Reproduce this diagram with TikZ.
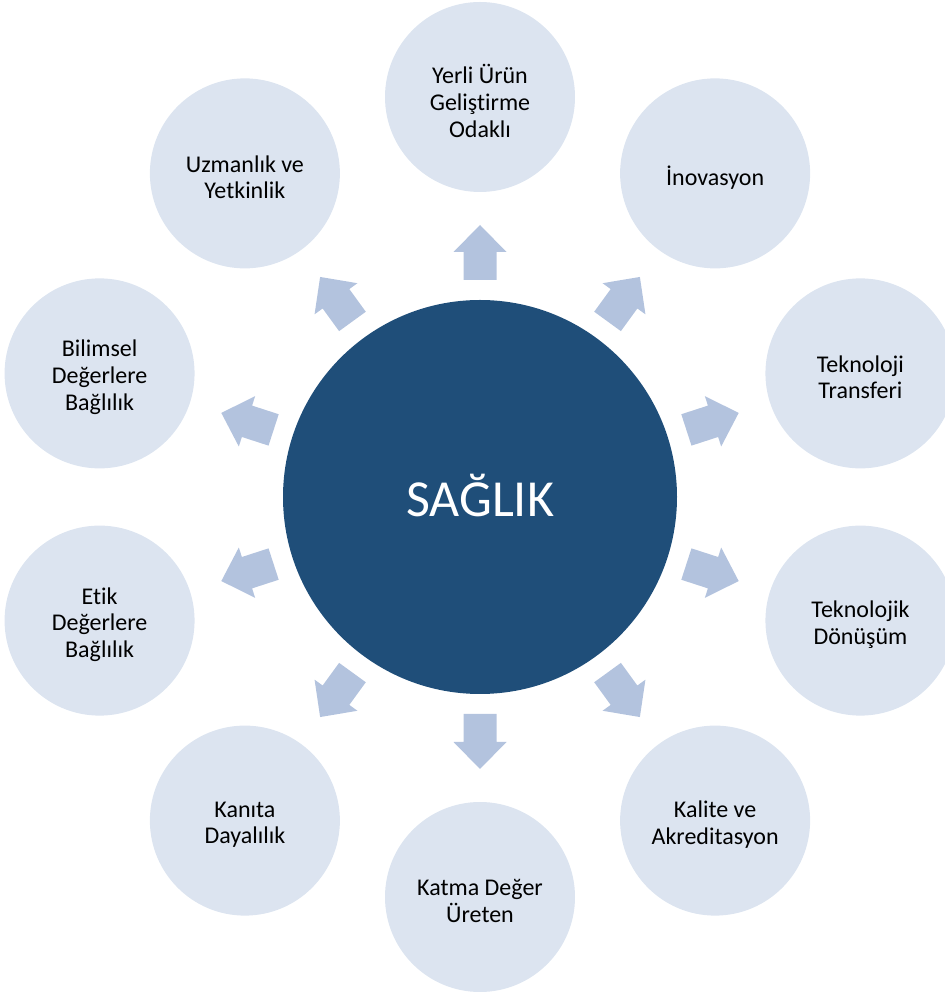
\documentclass[tikz,border=0pt]{standalone}
\usepackage{fontspec}
\setmainfont{Carlito}[Ligatures=NoCommon]
\usetikzlibrary{calc}
\definecolor{outerfill}{HTML}{DCE4F0}
\definecolor{arrowfill}{HTML}{B3C3DE}
\definecolor{centerfill}{HTML}{1F4E79}
\begin{document}
\begin{tikzpicture}[x=1pt,y=1pt,
  outercirc/.style={circle,fill=outerfill,minimum size=190pt,inner sep=0pt},
  outertext/.style={align=center,inner sep=0pt,
    font=\fontsize{24}{26.7}\selectfont,text=black},
  centercirc/.style={circle,fill=centerfill,minimum size=394pt,inner sep=0pt},
  centertext/.style={inner sep=0pt,font=\fontsize{52}{56}\selectfont,text=white},
  blockarrow/.style={fill=arrowfill}]
\useasboundingbox (0,0) rectangle (945,994);
\clip (0,0) rectangle (945,994);
\node[centercirc] (c) at (480,497) {};
\node[centertext] (ct) at ($(c.center)+(0,1)$) {SAĞLIK};
\foreach \k/\txt in {0/{Yerli Ürün\\Geliştirme\\Odaklı},1/{İnovasyon},2/{Teknoloji\\Transferi},
  3/{Teknolojik\\Dönüşüm},4/{Kalite ve\\Akreditasyon},5/{Katma Değer\\Üreten},
  6/{Kanıta\\Dayalılık},7/{Etik\\Değerlere\\Bağlılık},8/{Bilimsel\\Değerlere\\Bağlılık},
  9/{Uzmanlık ve\\Yetkinlik}}{
  \pgfmathsetmacro{\ang}{90-36*\k}
  \node[outercirc] (o\k) at ($(c.center)+(\ang:400)$) {};
  \node[outertext] (t\k) at ($(o\k.center)+(0,-4)$) {\txt};
  \begin{scope}[shift={(c.center)},rotate=\ang]
    \fill[blockarrow] (217,-16.5) -- (245,-16.5) -- (245,-26.5) -- (272,0)
      -- (245,26.5) -- (245,16.5) -- (217,16.5) -- cycle;
  \end{scope}
}
\end{tikzpicture}
\end{document}
